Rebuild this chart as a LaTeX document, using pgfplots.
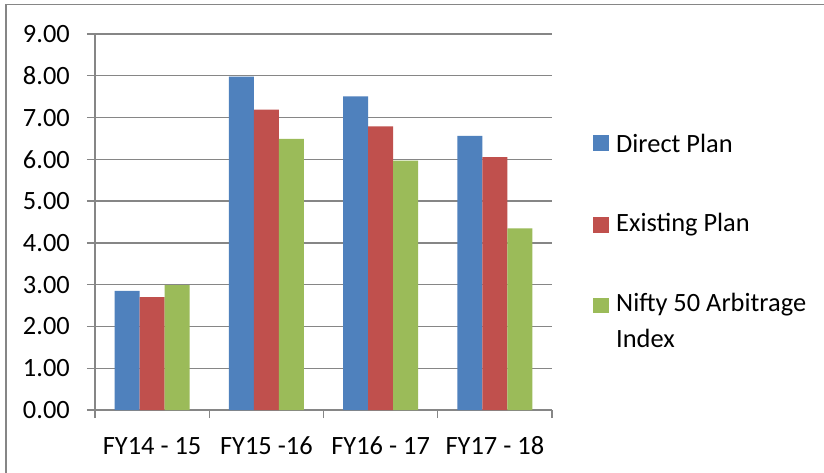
\documentclass[border=0pt]{standalone}
\usepackage{pgfplots}
\pgfplotsset{compat=1.18}
\usepackage{fontspec}
\setmainfont{Carlito}
\definecolor{xlblue}{RGB}{79,129,189}
\definecolor{xlred}{RGB}{192,80,77}
\definecolor{xlgreen}{RGB}{155,187,89}
\definecolor{xlgrid}{RGB}{134,134,134}
\begin{document}
\fontsize{26.5}{32}\selectfont
\begin{tikzpicture}
\useasboundingbox (0,0) rectangle (824bp,-473bp);
\fill[white] (0,0) rectangle (824bp,-473bp);
\draw[xlgrid, line width=1.2bp] (6bp,-473bp) -- (6bp,-4.5bp) -- (824bp,-4.5bp);
\begin{axis}[
  at={(95bp,-410bp)}, anchor=south west,
  scale only axis,
  width=457bp, height=376bp,
  ybar=0pt, bar width=25bp,
  xmin=-0.5, xmax=3.5,
  ymin=0, ymax=9,
  ytick={0,1,...,9},
  xtick={0,1,2,3},
  xticklabels={FY14 - 15, FY15 -16, FY16 - 17, FY17 - 18},
  minor xtick={-0.5,0.5,1.5,2.5,3.5},
  major x tick style={draw=none},
  axis x line*=bottom, axis y line*=left,
  axis line style={xlgrid, line width=1.3bp, -},
  tick style={xlgrid, line width=1.3bp},
  tick align=outside,
  major tick length=8bp, minor tick length=8bp,
  ymajorgrids, grid style={xlgrid, line width=1.3bp},
  /pgf/number format/assume math mode=true,
  yticklabel={\pgfmathprintnumber[fixed, fixed zerofill, precision=2]{\tick}},
  ticklabel style={font=\fontsize{26.5}{32}\selectfont},
  yticklabel style={anchor=east, inner sep=0pt, xshift=-17bp},
  xticklabel style={anchor=base, inner sep=0pt, yshift=-36bp},
]
\addplot[fill=xlblue, draw=none] coordinates {(0,2.85) (1,7.98) (2,7.51) (3,6.56)};
\addplot[fill=xlred, draw=none] coordinates {(0,2.70) (1,7.19) (2,6.79) (3,6.05)};
\addplot[fill=xlgreen, draw=none] coordinates {(0,2.99) (1,6.49) (2,5.97) (3,4.35)};
\end{axis}
% legend
\begin{scope}[font=\fontsize{26.5}{32}\selectfont]
\fill[xlblue] (593bp,-135bp) rectangle (609bp,-151bp);
\node[anchor=west, inner sep=0pt] at (616bp,-143bp) {Direct Plan};
\fill[xlred] (593bp,-217bp) rectangle (609bp,-233bp);
\node[anchor=west, inner sep=0pt] at (616bp,-225bp) {Existing Plan};
\fill[xlgreen] (593bp,-298bp) rectangle (609bp,-313bp);
\node[anchor=west, inner sep=0pt] at (616bp,-305bp) {Nifty 50 Arbitrage};
\node[anchor=west, inner sep=0pt] at (616bp,-338bp) {Index};
\end{scope}
\end{tikzpicture}
\end{document}
